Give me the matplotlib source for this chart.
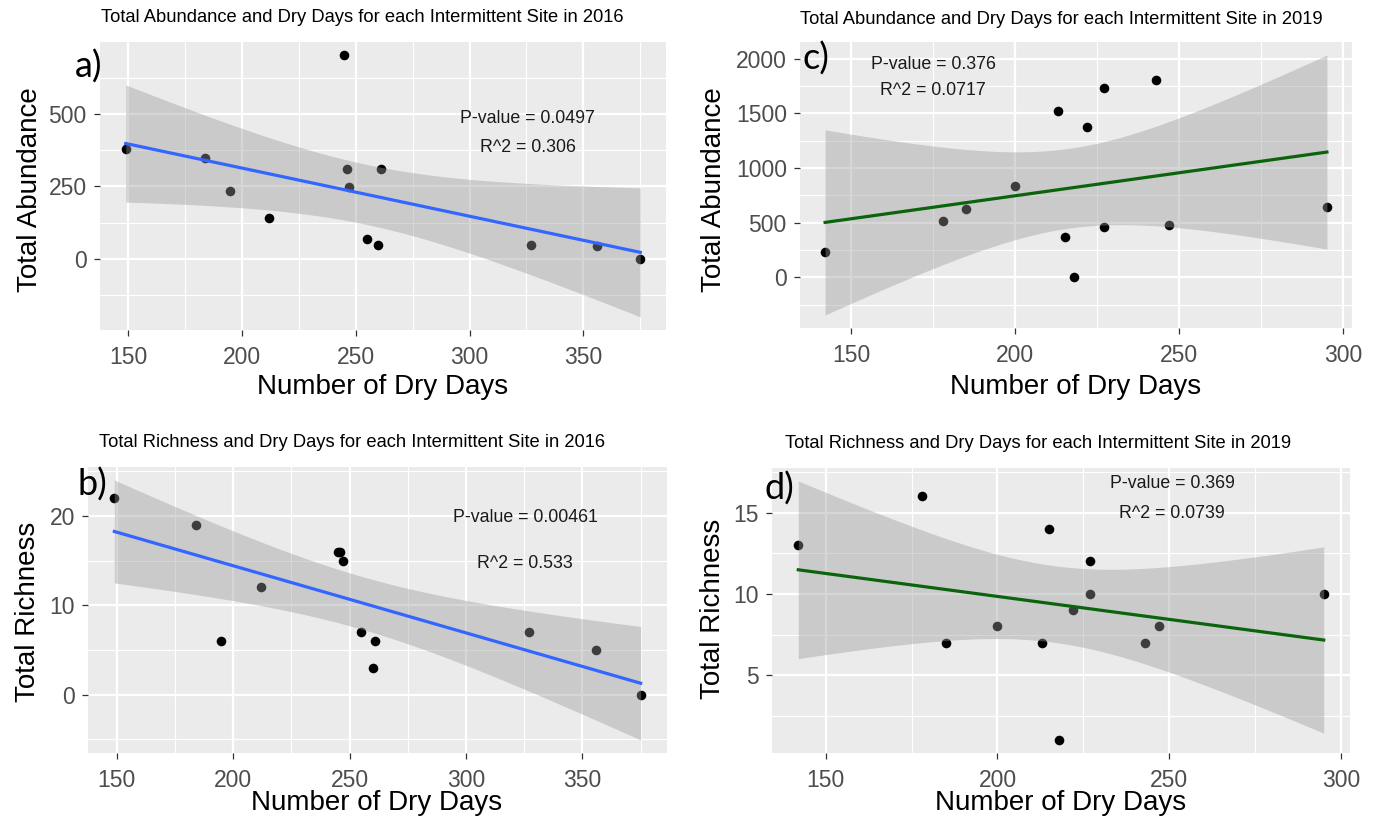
import numpy as np
import matplotlib
matplotlib.use("Agg")
import matplotlib.pyplot as plt
from matplotlib.ticker import FixedLocator

plt.rcParams['font.family'] = ['Liberation Sans', 'DejaVu Sans']

# 2016 intermittent sites
days_2016 = np.array([149, 184, 195, 212, 245, 246, 247, 255, 260, 261, 327, 356, 375])
abund_2016 = np.array([380, 350, 236, 142, 706, 312, 248, 69, 46, 312, 46, 45, 0])
rich_2016 = np.array([22, 19, 6, 12, 16, 16, 15, 7, 3, 6, 7, 5, 0])

# 2019 intermittent sites
days_2019 = np.array([142, 178, 185, 200, 213, 215, 218, 222, 227, 227, 243, 247, 295])
abund_2019 = np.array([232, 516, 623, 840, 1518, 373, 0, 1374, 1731, 464, 1805, 479, 640])
rich_2019 = np.array([13, 16, 7, 8, 7, 14, 1, 9, 12, 10, 7, 8, 10])

xticks_2016 = [150, 200, 250, 300, 350]
xticks_2019 = [150, 200, 250, 300]
yticks_a = [0, 250, 500]
yticks_b = [0, 10, 20]
yticks_c = [0, 500, 1000, 1500, 2000]
yticks_d = [5, 10, 15]

stats_a = ["P-value = 0.0497", "R^2 = 0.306"]
stats_b = ["P-value = 0.00461", "R^2 = 0.533"]
stats_c = ["P-value = 0.376", "R^2 = 0.0717"]
stats_d = ["P-value = 0.369", "R^2 = 0.0739"]

W, H = 1379, 833
fig = plt.figure(figsize=(W / 100, H / 100), dpi=100)


def px_axes(l, t, r, b):
    return fig.add_axes([l / W, 1 - b / H, (r - l) / W, (b - t) / H])


def lm_band(x, y, n=80, tcrit=2.200985):
    # linear fit with 95% confidence band, like geom_smooth(method="lm")
    b1, b0 = np.polyfit(x, y, 1)
    xs = np.linspace(x.min(), x.max(), n)
    fit = b0 + b1 * xs
    resid = y - (b0 + b1 * x)
    s = np.sqrt(np.sum(resid ** 2) / (len(x) - 2))
    se = s * np.sqrt(1 / len(x) + (xs - x.mean()) ** 2 / np.sum((x - x.mean()) ** 2))
    return xs, fit, fit - tcrit * se, fit + tcrit * se


def minor_between(ticks, lo, hi):
    step = ticks[1] - ticks[0]
    allt = np.arange(ticks[0] - 5 * step, ticks[-1] + 5 * step, step)
    mids = allt[:-1] + step / 2
    return [m for m in mids if lo <= m <= hi]


def panel(ax, x, y, color, xticks, yticks, stats, sx, sy):
    xs, fit, lo, hi = lm_band(x, y)
    ax.set_facecolor('#EBEBEB')
    ax.scatter(x, y, s=48, color='black', zorder=3, linewidths=0)
    ax.fill_between(xs, lo, hi, color='#999999', alpha=0.4, linewidth=0, zorder=4)
    ax.plot(xs, fit, color=color, lw=2.3, zorder=5)

    xr = x.max() - x.min()
    ax.set_xlim(x.min() - 0.05 * xr, x.max() + 0.05 * xr)
    ymin = min(y.min(), lo.min())
    ymax = max(y.max(), hi.max())
    yr = ymax - ymin
    ax.set_ylim(ymin - 0.05 * yr, ymax + 0.05 * yr)

    x0, x1 = ax.get_xlim()
    y0, y1 = ax.get_ylim()
    ax.xaxis.set_major_locator(FixedLocator(xticks))
    ax.yaxis.set_major_locator(FixedLocator(yticks))
    ax.xaxis.set_minor_locator(FixedLocator(minor_between(xticks, x0, x1)))
    ax.yaxis.set_minor_locator(FixedLocator(minor_between(yticks, y0, y1)))
    ax.grid(which='major', color='white', lw=1.6, zorder=0)
    ax.grid(which='minor', color='white', lw=0.8, zorder=0)
    ax.set_axisbelow(True)
    for sp in ax.spines.values():
        sp.set_visible(False)
    ax.tick_params(which='major', length=4.5, width=0.9, color='#333333',
                   labelsize=16.5, labelcolor='#4D4D4D', pad=5)
    ax.tick_params(axis='x', which='major', pad=7)
    ax.tick_params(which='minor', length=0)

    ax.text(sx, sy[0], stats[0], transform=ax.transAxes, ha='center', va='center',
            fontsize=12.8, color='#1A1A1A', zorder=6)
    ax.text(sx, sy[1], stats[1], transform=ax.transAxes, ha='center', va='center',
            fontsize=12.8, color='#1A1A1A', zorder=6)


ax_a = px_axes(100, 42, 666, 330)
ax_c = px_axes(800, 42, 1352, 328)
ax_b = px_axes(88, 467, 667, 753)
ax_d = px_axes(772, 468, 1350, 753)

panel(ax_a, days_2016, abund_2016, '#3366FF', xticks_2016, yticks_a, stats_a, 0.756, (0.736, 0.635))
panel(ax_b, days_2016, rich_2016, '#3366FF', xticks_2016, yticks_b, stats_b, 0.755, (0.822, 0.664))
panel(ax_c, days_2019, abund_2019, '#0B640B', xticks_2019, yticks_c, stats_c, 0.241, (0.920, 0.832))
panel(ax_d, days_2019, rich_2019, '#0B640B', xticks_2019, yticks_d, stats_d, 0.692, (0.947, 0.842))

# titles (left aligned, small)
titles = [
    (101, 17, "Total Abundance and Dry Days for each Intermittent Site in 2016"),
    (800, 20, "Total Abundance and Dry Days for each Intermittent Site in 2019"),
    (99, 443, "Total Richness and Dry Days for each Intermittent Site in 2016"),
    (785, 444, "Total Richness and Dry Days for each Intermittent Site in 2019"),
]
for tx, ty, txt in titles:
    fig.text(tx / W, 1 - ty / H, txt, ha='left', va='center', fontsize=13.2, color='black')

# axis titles
for cx, cy in [(383, 387), (1076, 387), (377, 803), (1061, 803)]:
    fig.text(cx / W, 1 - cy / H, "Number of Dry Days", ha='center', va='center',
             fontsize=20, color='black')
for cx, cy, txt in [(30, 190, "Total Abundance"), (714, 190, "Total Abundance"),
                    (28, 612, "Total Richness"), (713, 609, "Total Richness")]:
    fig.text(cx / W, 1 - cy / H, txt, ha='center', va='center', rotation=90,
             fontsize=20, color='black')

# panel letters
for lx, ly, txt in [(75, 67, "a)"), (802, 59, "c)"), (77, 485, "b)"), (765, 489, "d)")]:
    fig.text(lx / W, 1 - ly / H, txt, ha='left', va='center', fontsize=26,
             family=['Lato', 'DejaVu Sans'], color='black')

fig.savefig('out.png', dpi=100, facecolor='white')
